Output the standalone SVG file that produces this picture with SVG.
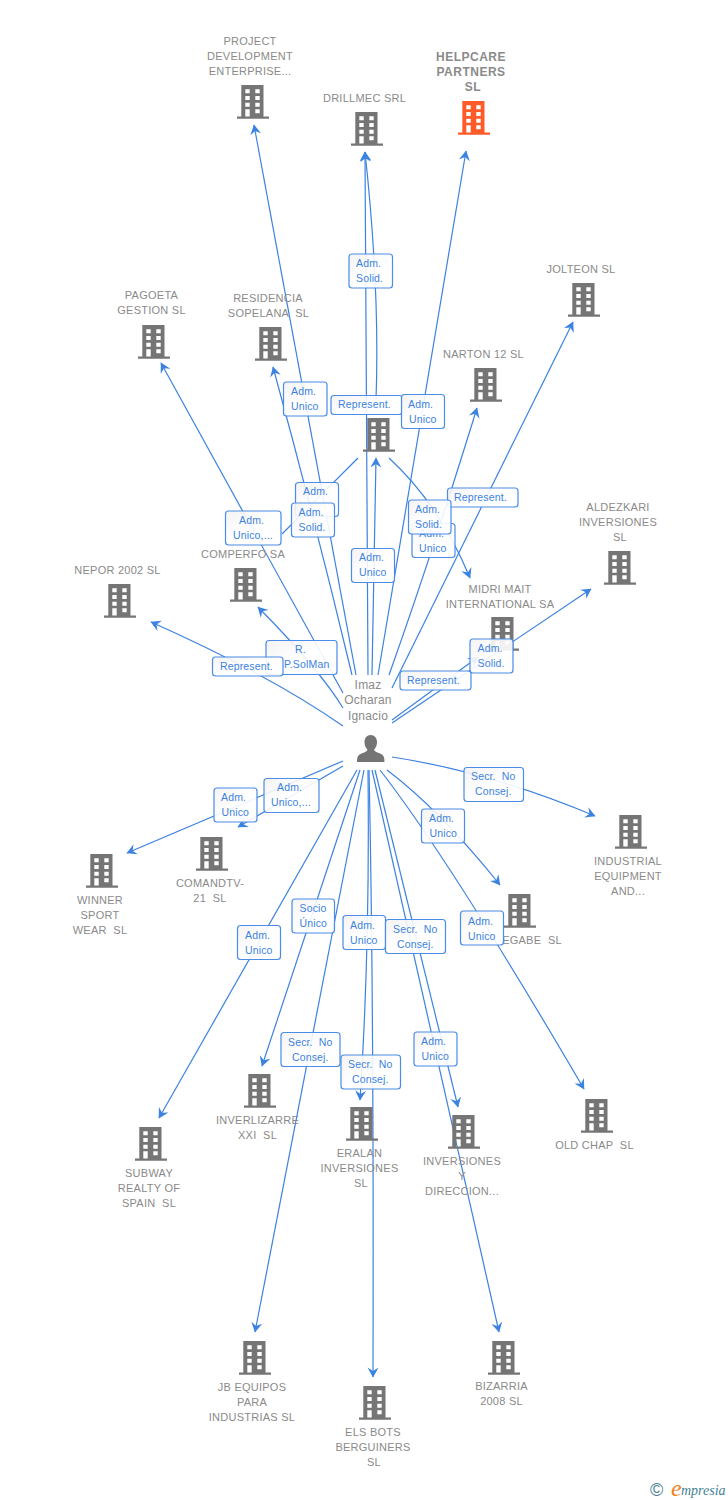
<svg xmlns="http://www.w3.org/2000/svg" width="728" height="1500" viewBox="0 0 728 1500">
<style>
text{font-family:"Liberation Sans",Arial,sans-serif;white-space:pre}
.n{font-size:11px;fill:#8a8a8a;text-anchor:middle;letter-spacing:.25px}
.h{font-size:12px;font-weight:bold;fill:#8a8a8a;text-anchor:middle;letter-spacing:.5px}
.p{font-size:12px;fill:#8a8a8a;text-anchor:middle;letter-spacing:.2px}
.e{fill:none;stroke:#3c82e0;stroke-width:1.2;marker-end:url(#a)}
.x{fill:none;stroke:#3c82e0;stroke-width:1.2}
.b{fill:url(#g);stroke:#4a8ce6;stroke-width:1.2;fill-opacity:.9}
.l{font-size:10.500px;fill:#3c82e0;letter-spacing:.15px}
</style>
<defs>
<linearGradient id="g" x1="0" y1="0" x2="1" y2="1"><stop offset="0" stop-color="#f2f2f2"/><stop offset=".5" stop-color="#fff"/><stop offset="1" stop-color="#fff"/></linearGradient>
<marker id="a" markerUnits="userSpaceOnUse" markerWidth="11" markerHeight="12" refX="9.500" refY="6" orient="auto" viewBox="0 0 11 12"><path d="M10,6L0,0.500L3.500,6L0,11.500Z" fill="#3c82e0"/></marker>
<symbol id="t" width="32" height="34" viewBox="0 0 32 34">
<path fill-rule="evenodd" d="M4.3,0H26.5V31.5H32V33.7H0V31.5H4.3ZM8.3,4.3V8.3H12.7V4.3ZM18.3,4.3V8.3H22.7V4.3ZM8.3,11V15H12.7V11ZM18.3,11V15H22.7V11ZM8.3,17.7V21.7H12.7V17.7ZM18.3,17.7V21.7H22.7V17.7ZM8.3,24.3V31.5H12.7V24.3ZM18.3,24.3V28.3H22.7V24.3Z"/>
</symbol>
</defs>
<g id="connectors">
<path class="e" d="M356,675L254,125"/>
<path class="e" d="M352,675Q315,520 273,367"/>
<path class="e" d="M368,675L365,152"/>
<path class="e" d="M376,400Q380,290 365,152"/>
<path class="e" d="M378,675L466,151"/>
<path class="e" d="M372,675L376,458"/>
<path class="e" d="M389,675Q430,560 477,408"/>
<path class="e" d="M392,688L573,322"/>
<path class="e" d="M389,458Q440,505 470,578"/>
<path class="x" d="M358,458L282,534"/>
<path class="e" d="M343,693L161,363"/>
<path class="e" d="M343,708Q320,670 258,607"/>
<path class="e" d="M343,726Q270,675 151,622"/>
<path class="e" d="M392,723L591,589"/>
<path class="e" d="M392,720L478,657"/>
<path class="e" d="M343,761L127,853"/>
<path class="e" d="M343,766L238,827"/>
<path class="e" d="M392,757Q490,772 595,816"/>
<path class="e" d="M387,770Q440,810 500,885"/>
<path class="e" d="M380,770Q450,860 584,1089"/>
<path class="e" d="M357,770L159,1118"/>
<path class="e" d="M360,770L262,1066"/>
<path class="e" d="M364,770L255,1332"/>
<path class="e" d="M368,770Q370,950 360,1100"/>
<path class="e" d="M369,770Q374,1000 373,1377"/>
<path class="e" d="M375,770L458,1107"/>
<path class="e" d="M372,770Q430,1030 499,1332"/>
</g>
<g id="nodes" fill="#757575">
<g id="n-project"><use href="#t" x="237" y="85"/><text class="n"><tspan x="250" y="45">PROJECT</tspan><tspan x="250" y="60">DEVELOPMENT</tspan><tspan x="250" y="75">ENTERPRISE...</tspan></text></g>
<g id="n-drillmec"><use href="#t" x="351" y="112"/><text class="n" x="364.500" y="102">DRILLMEC SRL</text></g>
<g id="n-helpcare" fill="#ff5a2a"><use href="#t" x="458" y="101"/><text class="h"><tspan x="471" y="61">HELPCARE</tspan><tspan x="471" y="76">PARTNERS</tspan><tspan x="473" y="91">SL</tspan></text></g>
<g id="n-pagoeta"><use href="#t" x="138" y="325"/><text class="n"><tspan x="151.500" y="299">PAGOETA</tspan><tspan x="151.500" y="314">GESTION SL</tspan></text></g>
<g id="n-residencia"><use href="#t" x="255" y="327"/><text class="n"><tspan x="268" y="302">RESIDENCIA</tspan><tspan x="268.500" y="317">SOPELANA  SL</tspan></text></g>
<g id="n-jolteon"><use href="#t" x="568" y="283"/><text class="n" x="581" y="273">JOLTEON SL</text></g>
<g id="n-narton"><use href="#t" x="470" y="368"/><text class="n" x="483.500" y="358">NARTON 12 SL</text></g>
<g id="n-center"><use href="#t" x="363" y="418"/></g>
<g id="n-aldezkari"><use href="#t" x="604" y="551"/><text class="n"><tspan x="618" y="511">ALDEZKARI</tspan><tspan x="618" y="526">INVERSIONES</tspan><tspan x="620" y="541">SL</tspan></text></g>
<g id="n-comperfo"><use href="#t" x="230" y="568"/><text class="n" x="243" y="558">COMPERFO SA</text></g>
<g id="n-nepor"><use href="#t" x="104" y="584"/><text class="n" x="117.500" y="574">NEPOR 2002 SL</text></g>
<g id="n-midri"><use href="#t" x="487" y="617"/><text class="n"><tspan x="500" y="593">MIDRI MAIT</tspan><tspan x="500" y="608">INTERNATIONAL SA</tspan></text></g>
<g id="n-person"><path d="M370.500,735c4,0 6.500,3 6.500,7c0,3 -1,5.500 -3,8c1,2 4,2.500 7,4c2.500,1 3.500,3 3.500,8H357c0,-5 1,-7 3.500,-8c3,-1.500 6,-2 7,-4c-2,-2.500 -3,-5 -3,-8c0,-4 2.500,-7 6,-7Z"/><text class="p"><tspan x="368" y="689">Imaz</tspan><tspan x="368" y="704">Ocharan</tspan><tspan x="368" y="720">Ignacio</tspan></text></g>
<g id="n-comandtv"><use href="#t" x="196" y="837"/><text class="n"><tspan x="210" y="887">COMANDTV-</tspan><tspan x="210" y="902">21  SL</tspan></text></g>
<g id="n-winner"><use href="#t" x="86" y="854"/><text class="n"><tspan x="100" y="904">WINNER</tspan><tspan x="100" y="919">SPORT</tspan><tspan x="100" y="934">WEAR  SL</tspan></text></g>
<g id="n-industrial"><use href="#t" x="615" y="815"/><text class="n"><tspan x="628" y="865">INDUSTRIAL</tspan><tspan x="628" y="880">EQUIPMENT</tspan><tspan x="628" y="895">AND...</tspan></text></g>
<g id="n-egabe"><use href="#t" x="504" y="894"/><text class="n" x="532" y="944">EGABE  SL</text></g>
<g id="n-oldchap"><use href="#t" x="581" y="1099"/><text class="n" x="594.500" y="1149">OLD CHAP  SL</text></g>
<g id="n-subway"><use href="#t" x="135" y="1127"/><text class="n"><tspan x="149" y="1177">SUBWAY</tspan><tspan x="149" y="1192">REALTY OF</tspan><tspan x="149" y="1207">SPAIN  SL</tspan></text></g>
<g id="n-inverlizarre"><use href="#t" x="244" y="1074"/><text class="n"><tspan x="257.500" y="1124">INVERLIZARRE</tspan><tspan x="257.500" y="1139">XXI  SL</tspan></text></g>
<g id="n-eralan"><use href="#t" x="346" y="1107"/><text class="n"><tspan x="359.500" y="1157">ERALAN</tspan><tspan x="359.500" y="1172">INVERSIONES</tspan><tspan x="361" y="1187">SL</tspan></text></g>
<g id="n-inversiones"><use href="#t" x="448" y="1115"/><text class="n"><tspan x="462" y="1165">INVERSIONES</tspan><tspan x="462" y="1180">Y</tspan><tspan x="462" y="1195">DIRECCION...</tspan></text></g>
<g id="n-jb"><use href="#t" x="239" y="1341"/><text class="n"><tspan x="252" y="1391">JB EQUIPOS</tspan><tspan x="252" y="1406">PARA</tspan><tspan x="252" y="1421">INDUSTRIAS SL</tspan></text></g>
<g id="n-elsbots"><use href="#t" x="359" y="1386"/><text class="n"><tspan x="373" y="1436">ELS BOTS</tspan><tspan x="373" y="1451">BERGUINERS</tspan><tspan x="374" y="1466">SL</tspan></text></g>
<g id="n-bizarria"><use href="#t" x="488" y="1341"/><text class="n"><tspan x="501.500" y="1390">BIZARRIA</tspan><tspan x="501.500" y="1405">2008 SL</tspan></text></g>
</g>
<g id="connector-labels">
<rect class="b" x="349" y="254" width="43.500" height="34" rx="3"/><text class="l"><tspan x="356" y="267">Adm.</tspan><tspan x="356" y="282">Solid.</tspan></text>
<rect class="b" x="283.500" y="382" width="43.500" height="34" rx="3"/><text class="l"><tspan x="291" y="395">Adm.</tspan><tspan x="291" y="410">Unico</tspan></text>
<rect class="b" x="331" y="395.500" width="71" height="19" rx="3"/><text class="l" x="338" y="408">Represent.</text>
<rect class="b" x="401.500" y="394.500" width="43" height="34" rx="3"/><text class="l"><tspan x="408" y="408">Adm.</tspan><tspan x="409" y="423">Unico</tspan></text>
<rect class="b" x="295.500" y="482.500" width="43" height="34" rx="3"/><text class="l" x="303" y="495">Adm.</text>
<rect class="b" x="291.500" y="503" width="43" height="34" rx="3"/><text class="l"><tspan x="298.500" y="516">Adm.</tspan><tspan x="298.500" y="531">Solid.</tspan></text>
<rect class="b" x="225.500" y="511" width="55.500" height="34" rx="3"/><text class="l"><tspan x="239" y="524">Adm.</tspan><tspan x="233" y="539">Unico,...</tspan></text>
<rect class="b" x="351.500" y="548.500" width="43" height="34" rx="3"/><text class="l"><tspan x="359" y="561">Adm.</tspan><tspan x="359" y="576">Unico</tspan></text>
<rect class="b" x="447.500" y="488" width="70.500" height="19" rx="3"/><text class="l" x="454" y="501">Represent.</text>
<rect class="b" x="412" y="523.500" width="43" height="34" rx="3"/><text class="l"><tspan x="419" y="537">Adm.</tspan><tspan x="419" y="552">Unico</tspan></text>
<rect class="b" x="408.500" y="500" width="42.500" height="34" rx="3"/><text class="l"><tspan x="415" y="513">Adm.</tspan><tspan x="415" y="528">Solid.</tspan></text>
<rect class="b" x="266" y="640.500" width="71" height="34" rx="3"/><text class="l"><tspan x="295" y="653">R.</tspan><tspan x="284" y="668">P.SolMan</tspan></text>
<rect class="b" x="212.500" y="657" width="70.500" height="19" rx="3"/><text class="l" x="220" y="670">Represent.</text>
<rect class="b" x="400" y="671" width="71" height="19" rx="3"/><text class="l" x="407" y="684">Represent.</text>
<rect class="b" x="470" y="639" width="43" height="34" rx="3"/><text class="l"><tspan x="477.500" y="652">Adm.</tspan><tspan x="477.500" y="667">Solid.</tspan></text>
<rect class="b" x="464" y="767.500" width="59.500" height="34" rx="3"/><text class="l"><tspan x="471" y="780">Secr.  No</tspan><tspan x="475" y="795">Consej.</tspan></text>
<rect class="b" x="264" y="778.500" width="55" height="34" rx="3"/><text class="l"><tspan x="277" y="791">Adm.</tspan><tspan x="271" y="806">Unico,...</tspan></text>
<rect class="b" x="214" y="788" width="43" height="34" rx="3"/><text class="l"><tspan x="221" y="801">Adm.</tspan><tspan x="221.500" y="816">Unico</tspan></text>
<rect class="b" x="421.500" y="809" width="43" height="34" rx="3"/><text class="l"><tspan x="429" y="822">Adm.</tspan><tspan x="429.500" y="837">Unico</tspan></text>
<rect class="b" x="292" y="899" width="42.500" height="34" rx="3"/><text class="l"><tspan x="299.500" y="912">Socio</tspan><tspan x="299.500" y="927">Único</tspan></text>
<rect class="b" x="237.500" y="925.500" width="43" height="34" rx="3"/><text class="l"><tspan x="245" y="939">Adm.</tspan><tspan x="245" y="954">Unico</tspan></text>
<rect class="b" x="343" y="915.500" width="42.500" height="34" rx="3"/><text class="l"><tspan x="350" y="929">Adm.</tspan><tspan x="350" y="944">Unico</tspan></text>
<rect class="b" x="385.500" y="919.500" width="60" height="34" rx="3"/><text class="l"><tspan x="393" y="933">Secr.  No</tspan><tspan x="397" y="948">Consej.</tspan></text>
<rect class="b" x="460.500" y="911" width="43" height="34" rx="3"/><text class="l"><tspan x="468" y="925">Adm.</tspan><tspan x="468" y="940">Unico</tspan></text>
<rect class="b" x="281" y="1032.500" width="59" height="34" rx="3"/><text class="l"><tspan x="288" y="1046">Secr.  No</tspan><tspan x="292" y="1061">Consej.</tspan></text>
<rect class="b" x="341" y="1055" width="59.500" height="34" rx="3"/><text class="l"><tspan x="348" y="1068">Secr.  No</tspan><tspan x="352" y="1083">Consej.</tspan></text>
<rect class="b" x="414" y="1032" width="43" height="34" rx="3"/><text class="l"><tspan x="421" y="1045">Adm.</tspan><tspan x="421.500" y="1060">Unico</tspan></text>
</g>
<g id="logo">
<text x="650" y="1496" style="font-size:18px;fill:#4a8096">©</text>
<text x="671" y="1496" style="font-family:'Liberation Serif',serif;font-size:24px;font-style:italic;fill:#f08020">e</text>
<text x="681" y="1495" style="font-family:'Liberation Serif',serif;font-size:14px;font-style:italic;fill:#3f7f96">mpresia</text>
</g>
</svg>
